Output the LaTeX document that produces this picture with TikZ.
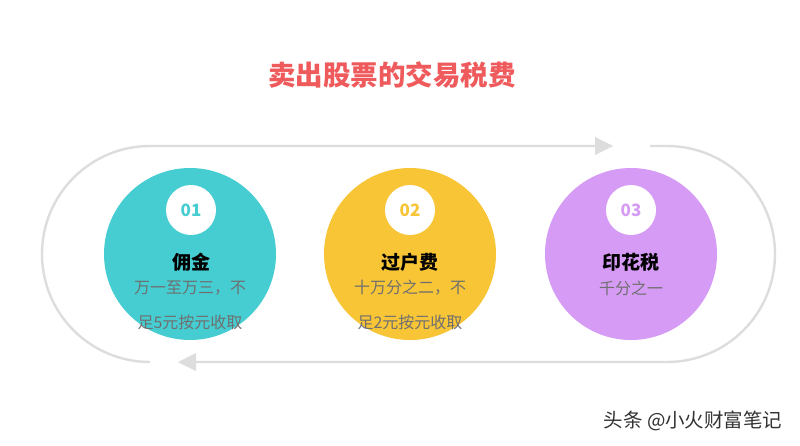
\documentclass[tikz,border=0pt]{standalone}
\usepackage{fontspec}
\setmainfont{Noto Sans CJK SC}
\definecolor{trackgray}{HTML}{DDDDDD}
\definecolor{teal1}{HTML}{45CDD1}
\definecolor{yellow1}{HTML}{F8C537}
\definecolor{purple1}{HTML}{D59BF5}
\definecolor{titlered}{HTML}{EF5A5C}
\definecolor{descgray}{HTML}{6F6F6F}
\begin{document}
\begin{tikzpicture}[x=1pt,y=1pt,
  track/.style={draw=trackgray,line width=2.4pt},
  tip/.style={fill=trackgray},
  bigc/.style={circle,minimum size=172pt,inner sep=0pt},
  numc/.style={circle,fill=white,minimum size=50pt,inner sep=0pt,font=\fontsize{17}{17}\selectfont\bfseries},
  head/.style={font=\fontsize{19}{19}\selectfont\bfseries,text=black},
  desc/.style={font=\fontsize{16}{16}\selectfont,text=descgray}]
\useasboundingbox (0,0) rectangle (800,445);
\fill[white] (0,0) rectangle (800,445);
% track
\draw[track] (150,83) arc[start angle=270,end angle=90,radius=108] -- (595,299);
\fill[tip] (595,308) -- (613,299) -- (595,290) -- cycle;
\draw[track] (650,299) -- (667,299) arc[start angle=90,end angle=-90,radius=108] -- (196,83);
\fill[tip] (196,92) -- (178,83) -- (196,74) -- cycle;
% title
\node[text=titlered,font=\fontsize{27.5}{27.5}\selectfont\bfseries] (title) at (392,370) {卖出股票的交易税费};
% circles
\node[bigc,fill=teal1] (c1) at (190,191) {};
\node[bigc,fill=yellow1] (c2) at (410,191) {};
\node[bigc,fill=purple1] (c3) at (631,191) {};
\node[numc,text=teal1] (n1) at (191,235) {01};
\node[numc,text=yellow1] (n2) at (410,235) {02};
\node[numc,text=purple1] (n3) at (631,235) {03};
\node[head] (h1) at (191,183) {佣金};
\node[head] (h2) at (410,183) {过户费};
\node[head] (h3) at (631,183) {印花税};
\node[desc] (d1a) at (190,157) {万一至万三，不};
\node[desc] (d1b) at (190,123) {足5元按元收取};
\node[desc] (d2a) at (410,157) {十万分之二，不};
\node[desc] (d2b) at (410,123) {足2元按元收取};
\node[desc] (d3a) at (631,157) {千分之一};
% watermark
\node[anchor=east,text=black!80,font=\fontsize{19.5}{19.5}\selectfont] (wm) at (786,24) {头条 @小火财富笔记};
\end{tikzpicture}
\end{document}
